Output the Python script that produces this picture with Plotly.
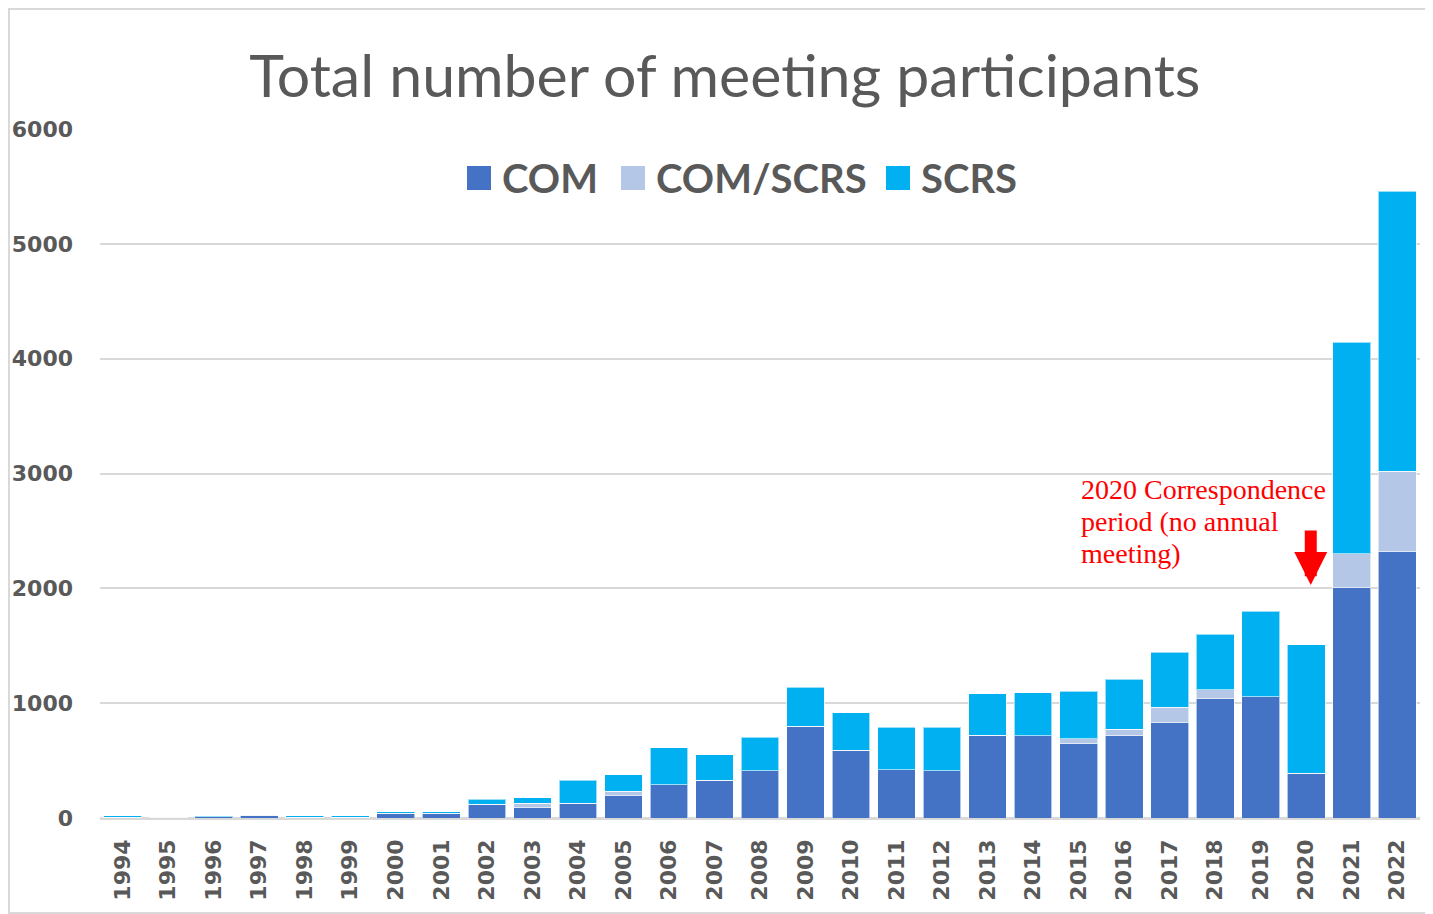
import plotly.graph_objects as go

years = [str(y) for y in range(1994, 2023)]

# participants by group
com = [5, 5, 12, 25, 5, 8, 40, 40, 120, 95, 130, 200, 290, 330, 410, 800,
       590, 420, 410, 720, 715, 645, 715, 835, 1040, 1055, 390, 2010, 2325]
com_scrs = [0, 0, 0, 0, 0, 0, 0, 0, 0, 35, 0, 35, 0, 0, 0, 0,
            0, 0, 0, 0, 0, 45, 60, 130, 75, 0, 0, 290, 695]
scrs = [15, 5, 8, 5, 15, 12, 15, 15, 45, 45, 200, 140, 320, 220, 295, 340,
        325, 370, 380, 360, 375, 415, 435, 480, 485, 745, 1120, 1845, 2440]

series = [('COM', com, '#4472C4'),
          ('COM/SCRS', com_scrs, '#B4C7E7'),
          ('SCRS', scrs, '#00B0F0')]

note_lines = ['2020 Correspondence', 'period (no annual', 'meeting)']

GREY = '#595959'

# the page has an 8px body margin, so the figure is a bit smaller than the window
W, H = 1425, 906
# plot area in figure pixels
L, R, T, B = 92, 1412, 121, 810


def px_x(p):
    return (p - L) / (R - L)


def px_y(p):
    return (B - p) / (B - T)


fig = go.Figure()
for name, vals, color in series:
    fig.add_trace(go.Bar(
        x=years, y=vals, name=name,
        marker=dict(color=color, line=dict(color='rgba(255,255,255,0.6)', width=1)),
        showlegend=False,
    ))

fig.update_layout(
    barmode='stack',
    bargap=0.17,
    width=W, height=H,
    margin=dict(l=L, r=W - R, t=T, b=H - B, autoexpand=False),
    plot_bgcolor='white', paper_bgcolor='white',
    title=dict(text='Total number of meeting participants',
               x=0.503, xanchor='center', y=0.925, yanchor='middle',
               font=dict(family='Lato', size=59, color=GREY)),
)

fig.update_yaxes(range=[0, 6000], dtick=1000, showgrid=True, automargin=False,
                 gridcolor='#D9D9D9', gridwidth=2,
                 zeroline=True, zerolinecolor='#D9D9D9', zerolinewidth=3,
                 tickfont=dict(family='DejaVu Sans', size=22, color=GREY, weight='bold'),
                 ticklabelstandoff=26)
fig.update_xaxes(tickangle=-90, showline=False, automargin=False,
                 tickfont=dict(family='DejaVu Sans', size=22, color=GREY, weight='bold'),
                 ticklabelstandoff=16)

# legend drawn by hand so the swatches can be as large as in the original
legend_items = [('COM', '#4472C4', 459, 495),
                ('COM/SCRS', '#B4C7E7', 613, 649),
                ('SCRS', '#00B0F0', 878, 914)]
for name, color, sx, tx in legend_items:
    fig.add_shape(type='rect', xref='paper', yref='paper',
                  x0=px_x(sx), x1=px_x(sx + 24), y0=px_y(182), y1=px_y(158),
                  fillcolor=color, line=dict(width=0))
    fig.add_annotation(text=name, xref='paper', yref='paper',
                       x=px_x(tx - 3), y=px_y(170), xanchor='left', yanchor='middle',
                       showarrow=False,
                       font=dict(family='Lato', size=40, color=GREY, weight='bold'))

# note and arrow for 2020
for i, line in enumerate(note_lines):
    fig.add_annotation(text=line, xref='paper', yref='paper',
                       x=px_x(1071), y=px_y(481 + 32 * i),
                       xanchor='left', yanchor='middle', showarrow=False,
                       font=dict(family='Liberation Serif', size=28, color='#FF0000'))
fig.add_annotation(x=26.1, y=2030, xref='x', yref='y', text='',
                   showarrow=True, arrowhead=2, arrowsize=0.55, arrowwidth=12,
                   arrowcolor='#FF0000', ax=0, ay=-56)

# chart frame
fig.add_shape(type='rect', xref='paper', yref='paper',
              x0=px_x(1), x1=px_x(W - 1), y0=px_y(H - 1), y1=px_y(1),
              line=dict(color='#D9D9D9', width=2), fillcolor='rgba(0,0,0,0)')

fig.write_html('out.html')
